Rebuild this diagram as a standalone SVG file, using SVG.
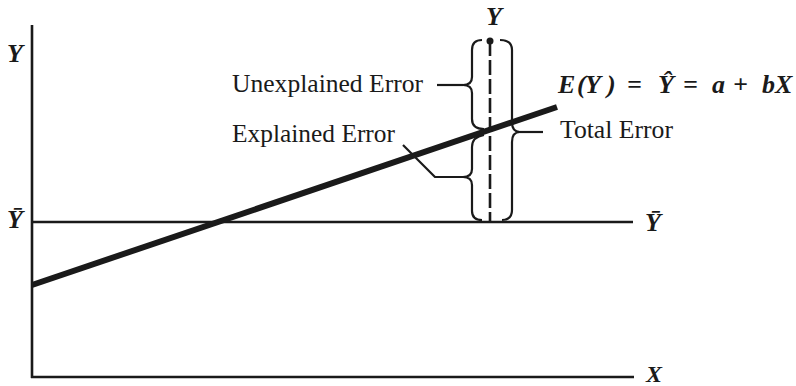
<svg xmlns="http://www.w3.org/2000/svg" width="796" height="386" viewBox="0 0 796 386">
<style>
.ax{stroke:#1a1a1a;stroke-width:2.6;fill:none}
.br{stroke:#1a1a1a;stroke-width:2.2;fill:none;stroke-linejoin:round}
.lbl{font-family:"Liberation Serif","Times New Roman",serif;font-size:25.5px;fill:#1a1a1a}
.math{font-family:"Liberation Serif","Times New Roman",serif;font-size:26px;font-style:italic;font-weight:bold;fill:#1a1a1a}
</style>
<rect width="796" height="386" fill="#fff"/>
<g id="axes">
<path class="ax" d="M32 25 V378 M31 377 H634"/>
<text class="math" x="7" y="62">Y</text>
<text class="math" x="646" y="382" style="font-size:24px">X</text>
</g>
<g id="mean-line">
<path class="ax" d="M32 222 H633"/>
<text class="math" x="7" y="228">Ȳ</text>
<text class="math" x="645" y="231">Ȳ</text>
</g>
<g id="regression-line">
<path d="M32 285 L557 107" stroke="#1a1a1a" stroke-width="6" fill="none"/>
<text class="math" x="558 577 585 607 627 658 683 712 733 762 775" y="93">E(Y)=Ŷ=a+bX</text>
</g>
<g id="observation">
<path d="M490 41 V222" stroke="#1a1a1a" stroke-width="2.6" stroke-dasharray="15 4"/>
<circle cx="490" cy="41" r="3.5" fill="#1a1a1a"/>
<text class="math" x="486" y="25">Y</text>
</g>
<g id="connectors">
<path class="br" d="M437 85 H463"/>
<path class="br" d="M403 145 L435 177 H463"/>
<path class="br" d="M520 132 H543"/>
</g>
<g id="unexplained-error">
<path class="br" d="M482 40 Q472 40 472 50 L472 77 Q472 85 463 85 Q472 85 472 93 L472 119 Q472 129 484 129"/>
<text class="lbl" x="232" y="92" textLength="191" lengthAdjust="spacingAndGlyphs">Unexplained Error</text>
</g>
<g id="explained-error">
<path class="br" d="M484 135 Q472 137 472 147 L472 169 Q472 177 463 177 Q472 177 472 185 L472 211 Q472 220 482 220"/>
<text class="lbl" x="232" y="142" textLength="163" lengthAdjust="spacingAndGlyphs">Explained Error</text>
</g>
<g id="total-error">
<path class="br" d="M500 40 Q512 40 512 50 L512 122 Q512 132 520 132 Q512 132 512 142 L512 210 Q512 220 502 220"/>
<text class="lbl" x="560" y="138" textLength="113" lengthAdjust="spacingAndGlyphs">Total Error</text>
</g>
</svg>
